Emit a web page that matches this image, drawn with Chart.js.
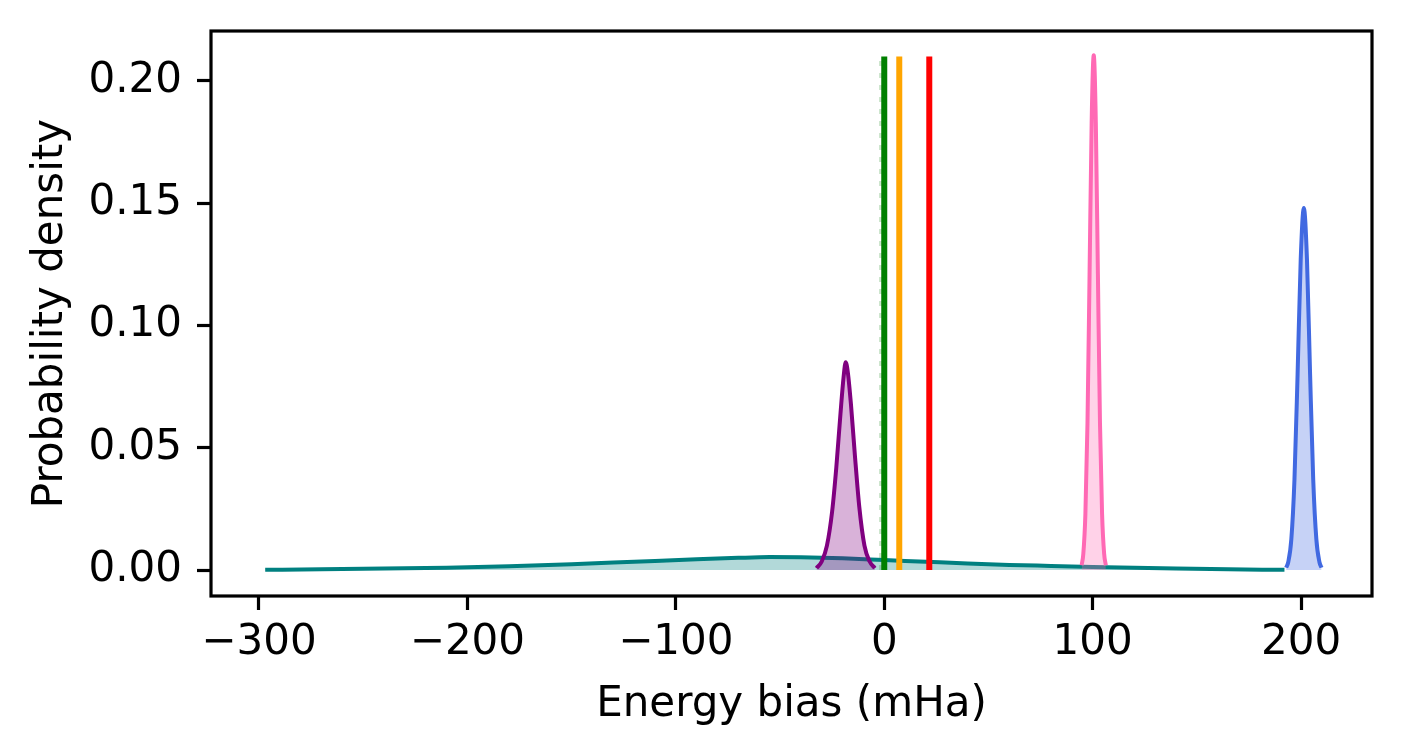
<!DOCTYPE html>
<html>
<head>
<meta charset="utf-8">
<script src="https://cdn.jsdelivr.net/npm/chart.js@4.4.1/dist/chart.umd.min.js"></script>
<style>
  html, body { margin: 0; padding: 0; background: #fff; }
  canvas { display: block; }
</style>
</head>
<body>
<canvas id="biasChart" width="1403" height="756"></canvas>
<script>
// tick labels
const xTicks = [-300, -200, -100, 0, 100, 200];
const yTicks = [0, 0.05, 0.10, 0.15, 0.20];

// broad teal density
const tealX = [-297, -270, -240, -210, -180, -150, -120, -90, -70, -55, -40, -20, 0, 20, 40, 60, 80, 100, 120, 140, 165, 192];
const tealY = [0.0001, 0.0003, 0.0006, 0.0010, 0.0016, 0.0024, 0.0034, 0.0044, 0.0050, 0.0053, 0.0052, 0.0048, 0.0041, 0.0034, 0.0027, 0.0021, 0.0017, 0.0013, 0.0009, 0.0006, 0.0003, 0.0001];

// purple peak near -18
const purpleX = [-32.5, -30, -27.5, -25, -23, -21, -19.5, -18.5, -17.5, -16, -14, -12, -9.5, -7, -4.5];
const purpleY = [0.0008, 0.0035, 0.010, 0.024, 0.042, 0.064, 0.079, 0.085, 0.081, 0.068, 0.046, 0.026, 0.010, 0.0035, 0.0008];

// pink peak near 100
const pinkX = [94.7, 95.5, 96.5, 97.5, 98.5, 99.5, 100.5, 101.5, 102.5, 103.5, 104.5, 105.5, 106.3];
const pinkY = [0.002, 0.0066, 0.023, 0.060, 0.121, 0.183, 0.2105, 0.183, 0.121, 0.060, 0.023, 0.0066, 0.002];

// blue peak near 200
const blueX = [192.8, 193.8, 195.3, 196.8, 198.3, 199.8, 201.3, 202.8, 204.3, 205.8, 207.3, 208.8, 209.8];
const blueY = [0.001, 0.0032, 0.0126, 0.037, 0.080, 0.127, 0.148, 0.127, 0.080, 0.037, 0.0126, 0.0032, 0.001];

// vertical reference lines
const refLineX = [0, 7.2, 21.6];
const dashedLineX = [-1.3];
const refLineTop = 0.21;

const refColors = ['#008000', '#ffa500', '#ff0000'];
const FONT = "'DejaVu Sans', 'Liberation Sans', sans-serif";
const FONT_SIZE = 42;

function points(xs, ys) {
    return xs.map(function (x, i) { return {x: x, y: ys[i]}; });
}

function curve(xs, ys, color, fillColor) {
    return {
        data: points(xs, ys),
        borderColor: color,
        backgroundColor: fillColor,
        borderWidth: 4,
        fill: 'origin',
        cubicInterpolationMode: 'monotone',
        pointRadius: 0
    };
}

function vline(x, color, width, dash) {
    return {
        data: [{x: x, y: 0}, {x: x, y: refLineTop}],
        borderColor: color,
        borderWidth: width,
        borderDash: dash || [],
        fill: false,
        tension: 0,
        pointRadius: 0
    };
}

var datasets = [
    curve(tealX, tealY, '#008080', 'rgba(0,128,128,0.3)'),
    curve(purpleX, purpleY, '#800080', 'rgba(128,0,128,0.3)')
];
dashedLineX.forEach(function (x) {
    datasets.push(vline(x, 'rgba(0,128,0,0.2)', 5, [5, 7]));
});
refLineX.forEach(function (x, i) {
    datasets.push(vline(x, refColors[i], 6));
});
datasets.push(curve(pinkX, pinkY, '#ff69b4', 'rgba(255,105,180,0.3)'));
datasets.push(curve(blueX, blueY, '#4169e1', 'rgba(65,105,225,0.3)'));
// first dataset at the bottom
datasets.forEach(function (d, i) { d.order = datasets.length - i; });

var frame = {
    id: 'frame',
    afterDatasetsDraw: function (chart) {
        var a = chart.chartArea, ctx = chart.ctx;
        ctx.save();
        ctx.strokeStyle = '#000';
        ctx.lineWidth = 3.2;
        ctx.strokeRect(a.left, a.top, a.right - a.left, a.bottom - a.top);
        ctx.restore();
    }
};

function minus(v) {
    return v < 0 ? '\u2212' + Math.abs(v) : String(v);
}

var ctx = document.getElementById('biasChart').getContext('2d');
new Chart(ctx, {
    type: 'line',
    data: {datasets: datasets},
    plugins: [frame],
    options: {
        responsive: false,
        animation: false,
        devicePixelRatio: 1,
        layout: {padding: {top: 31, right: 31, left: 0, bottom: 0}},
        plugins: {legend: {display: false}, tooltip: {enabled: false}},
        scales: {
            x: {
                type: 'linear',
                min: -323,
                max: 234,
                afterFit: function (s) { s.height = 160; s.paddingLeft = 0; s.paddingRight = 0; },
                afterBuildTicks: function (s) { s.ticks = xTicks.map(function (v) { return {value: v}; }); },
                border: {display: false},
                grid: {drawOnChartArea: false, drawTicks: true, tickLength: 14, tickWidth: 3.2, tickColor: '#000'},
                ticks: {
                    color: '#000', padding: 8, maxRotation: 0, autoSkip: false,
                    font: {family: FONT, size: FONT_SIZE},
                    callback: function (v) { return minus(v); }
                },
                title: {
                    display: true, text: 'Energy bias (mHa)', color: '#000',
                    font: {family: FONT, size: FONT_SIZE}, padding: {top: 0, bottom: 26}
                }
            },
            y: {
                type: 'linear',
                min: -0.0106,
                max: 0.2204,
                afterFit: function (s) { s.width = 211; s.paddingTop = 0; s.paddingBottom = 0; },
                afterBuildTicks: function (s) { s.ticks = yTicks.map(function (v) { return {value: v}; }); },
                border: {display: false},
                grid: {drawOnChartArea: false, drawTicks: true, tickLength: 14, tickWidth: 3.2, tickColor: '#000'},
                ticks: {
                    color: '#000', padding: 15,
                    font: {family: FONT, size: FONT_SIZE},
                    callback: function (v) { return v.toFixed(2); }
                },
                title: {
                    display: true, text: 'Probability density', color: '#000',
                    font: {family: FONT, size: FONT_SIZE}, padding: {top: 26, bottom: 0}
                }
            }
        }
    }
});
</script>
</body>
</html>
